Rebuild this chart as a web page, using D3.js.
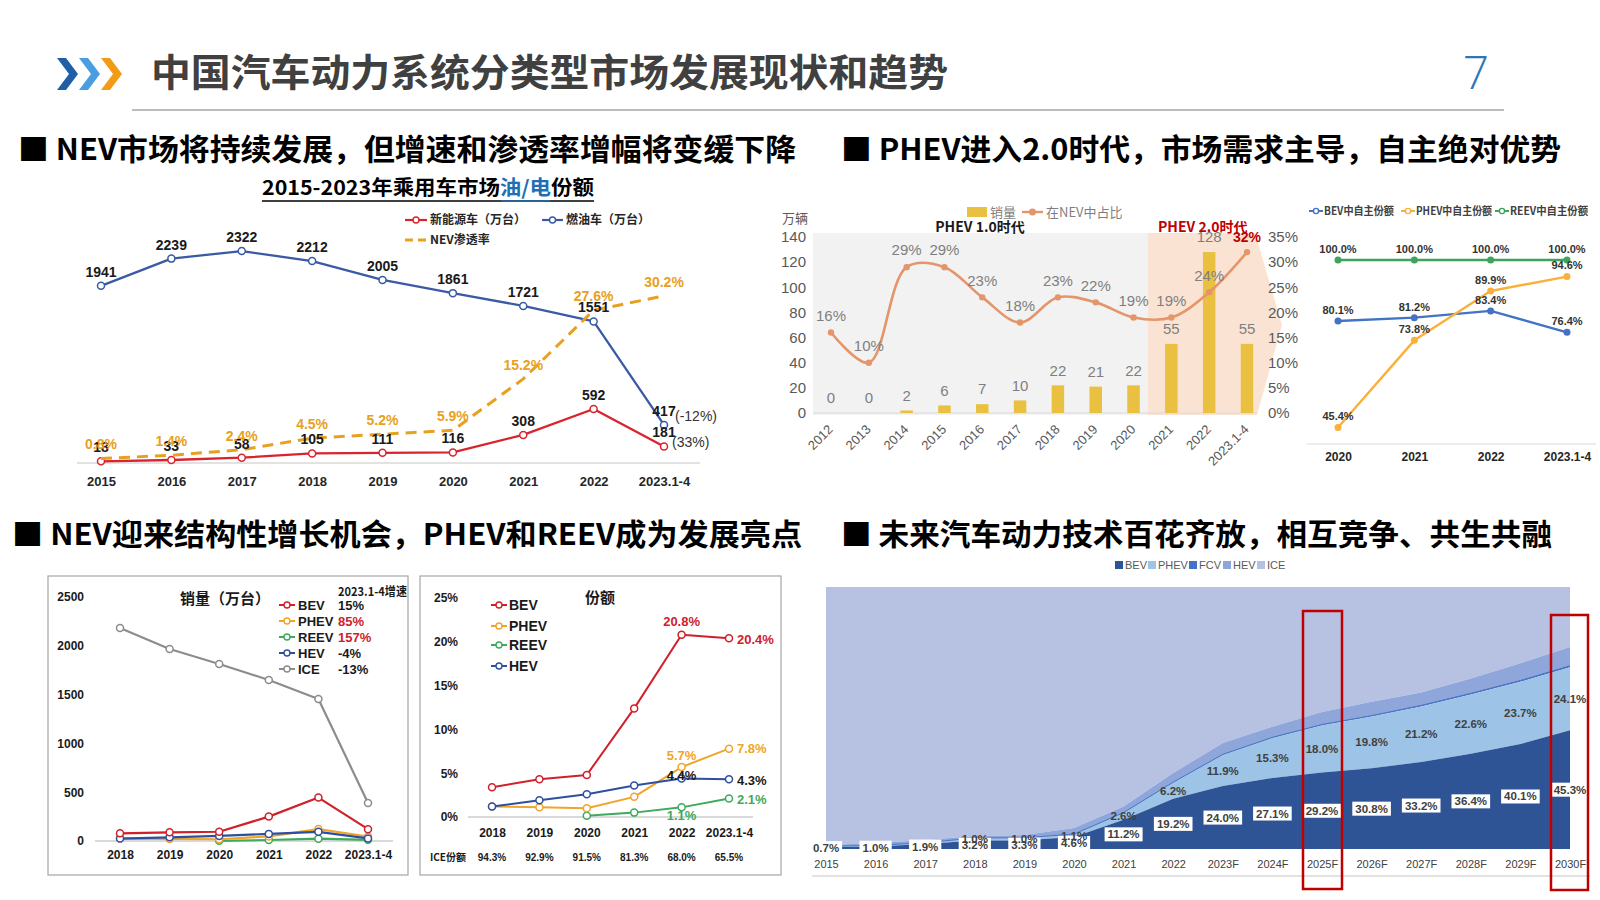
<!DOCTYPE html>
<html><head><meta charset="utf-8">
<script src="https://cdn.jsdelivr.net/npm/d3@7"></script>
<style>
body{margin:0;background:#fff;}
svg{display:block;}
</style></head><body>
<svg id="c" width="1600" height="900"></svg>
<script>
// ---------- DATA ----------
// Top-left: 2015-2023 passenger car market
const tlYears = ['2015','2016','2017','2018','2019','2020','2021','2022','2023.1-4'];
const tlNEV = [18,33,58,105,111,116,308,592,181];
const tlICE = [1941,2239,2322,2212,2005,1861,1721,1551,417];
const tlRate = [0.8,1.4,2.4,4.5,5.2,5.9,15.2,27.6,30.2];
const tlRateLabels = ['0.8%','1.4%','2.4%','4.5%','5.2%','5.9%','15.2%','27.6%','30.2%'];

// Top-middle: PHEV sales and share in NEV
const phevYears = ['2012','2013','2014','2015','2016','2017','2018','2019','2020','2021','2022','2023.1-4'];
const phevSales = [0,0,2,6,7,10,22,21,22,55,128,55];
const phevShare = [16,10,29,29,23,18,23,22,19,19,24,32];
const phevLeftTicks = [0,20,40,60,80,100,120,140];
const phevRightTicks = [0,5,10,15,20,25,30,35];

// Top-right: domestic brand share
const ownYears = ['2020','2021','2022','2023.1-4'];
const ownBEV = [80.1,81.2,83.4,76.4];
const ownPHEV = [45.4,73.8,89.9,94.6];
const ownREEV = [100.0,100.0,100.0,100.0];

// Bottom-left: sales (10k units) and share
const nevYears = ['2018','2019','2020','2021','2022','2023.1-4'];
const salesBEV = [79,89,95,250,445,121];
const salesPHEV = [25,21,18,47,122,46];
const salesREEV = [null,null,2,10,24,12];
const salesHEV = [25,38,52,73,94,26];
const salesICE = [2182,1967,1813,1650,1455,389];
const salesTicks = [0,500,1000,1500,2000,2500];
const growthLabels = ['15%','85%','157%','-4%','-13%'];

const shareBEV = [3.4,4.3,4.8,12.4,20.8,20.4];
const sharePHEV = [1.2,1.1,1.0,2.3,5.7,7.8];
const shareREEV = [null,null,0.15,0.5,1.1,2.1];
const shareHEV = [1.2,1.9,2.6,3.6,4.4,4.3];
const shareICELabels = ['94.3%','92.9%','91.5%','81.3%','68.0%','65.5%'];
const shareTicks = [0,5,10,15,20,25];

// Bottom-right: powertrain mix forecast (%)
const futYears = ['2015','2016','2017','2018','2019','2020','2021','2022','2023F','2024F','2025F','2026F','2027F','2028F','2029F','2030F'];
const futBEV  = [0.7,1.0,1.9,3.2,3.3,4.6,11.2,19.2,24.0,27.1,29.2,30.8,33.2,36.4,40.1,45.3];
const futPHEV = [0.3,0.4,0.5,1.0,1.0,1.1,2.6,6.2,11.9,15.3,18.0,19.8,21.2,22.6,23.7,24.1];
const futFCV  = [0,0,0,0,0,0,0.1,0.1,0.2,0.2,0.3,0.3,0.4,0.4,0.5,0.5];
const futHEV  = [0.5,0.9,1.0,0.8,1.0,2.3,2.3,3.5,4.4,4.1,4.8,5.3,4.9,5.7,6.6,7.2];
const futICE  = [98.5,97.7,96.6,95.0,94.7,92.0,83.8,71.0,59.5,53.3,47.7,43.8,40.3,34.9,29.1,22.9];

// ---------- HELPERS ----------
const svg = d3.select('#c');
const CJK = '"Noto Sans CJK SC","Liberation Sans",sans-serif';
const NUM = '"Liberation Sans","Noto Sans CJK SC",sans-serif';
const NAR = '"Liberation Sans Narrow","Liberation Sans","Noto Sans CJK SC",sans-serif';

function T(g, x, y, s, o = {}) {
  const t = g.append('text').attr('x', x).attr('y', y).attr('dy', o.dy ?? '0.35em')
    .attr('text-anchor', o.anchor || 'middle').attr('font-size', o.size || 12)
    .attr('font-weight', o.weight || 'normal').attr('fill', o.fill || '#000')
    .attr('font-family', o.family || NUM).text(s);
  if (o.len) t.attr('textLength', o.len).attr('lengthAdjust', 'spacingAndGlyphs');
  return t;
}
function styleAxis(g, o = {}) {
  g.select('.domain').remove();
  g.selectAll('.tick line').remove();
  g.attr('font-family', o.family || NUM).attr('font-size', o.size || 12).attr('font-weight', o.weight || 'normal');
  g.selectAll('text').attr('fill', o.fill || '#000');
  return g;
}
function hline(g, x1, x2, y, col, w) {
  g.append('line').attr('x1', x1).attr('x2', x2).attr('y1', y).attr('y2', y).attr('stroke', col).attr('stroke-width', w);
}
function series(g, xs, ys, vals, color, o = {}) {
  const pts = vals.map((v, i) => ({ v, i })).filter(d => d.v !== null);
  const line = d3.line().x(d => xs(d.x)).y(d => ys(d.v));
  if (o.curve) line.curve(o.curve);
  const data = pts.map(d => ({ x: o.cats[d.i], v: d.v }));
  const p = g.append('path').datum(data).attr('d', line).attr('fill', 'none').attr('stroke', color)
    .attr('stroke-width', o.width || 2.2).attr('stroke-linejoin', 'round');
  if (o.dash) p.attr('stroke-dasharray', o.dash);
  if (o.marker !== false) {
    g.selectAll(null).data(data).enter().append('circle')
      .attr('cx', d => xs(d.x)).attr('cy', d => ys(d.v)).attr('r', o.r || 3.5)
      .attr('fill', o.filled ? color : '#fff').attr('stroke', color).attr('stroke-width', o.filled ? 0 : 1.5);
  }
}
function legendLine(g, x1, x2, y, color, o = {}) {
  const l = g.append('line').attr('x1', x1).attr('x2', x2).attr('y1', y).attr('y2', y)
    .attr('stroke', color).attr('stroke-width', o.width || 2);
  if (o.dash) l.attr('stroke-dasharray', o.dash);
  if (!o.dash) g.append('circle').attr('cx', (x1 + x2) / 2).attr('cy', y).attr('r', o.r || 3)
    .attr('fill', o.filled ? color : '#fff').attr('stroke', color).attr('stroke-width', 1.4);
}

svg.append('rect').attr('width', 1600).attr('height', 900).attr('fill', '#fff');

// ---------- HEADER ----------
const hd = svg.append('g');
[[57, '#1f5fa8'], [79, '#4a9de0'], [101, '#f39a17']].forEach(([x0, c]) => {
  const top = 58, bot = 90, mid = 74, w = 21, t = 9;
  hd.append('polygon').attr('points', [[x0, top], [x0 + t, top], [x0 + w, mid], [x0 + t, bot], [x0, bot], [x0 + w - t, mid]].map(p => p.join(',')).join(' ')).attr('fill', c);
});
T(hd, 151, 73, '中国汽车动力系统分类型市场发展现状和趋势', { anchor: 'start', size: 38, weight: 'bold', fill: '#404040', family: CJK, len: 797 });
T(hd, 1476, 73, '7', { size: 46, weight: '300', fill: '#2e75b6', family: '"Open Sans","Liberation Sans",sans-serif' });
hline(hd, 132, 1504, 110, '#a6a6a6', 1.5);

T(hd, 18, 149, '■ NEV市场将持续发展，但增速和渗透率增幅将变缓下降', { anchor: 'start', size: 30, weight: 'bold', family: CJK, len: 778 });
T(hd, 841, 149, '■ PHEV进入2.0时代，市场需求主导，自主绝对优势', { anchor: 'start', size: 30, weight: 'bold', family: CJK, len: 720 });
T(hd, 12, 534, '■ NEV迎来结构性增长机会，PHEV和REEV成为发展亮点', { anchor: 'start', size: 30, weight: 'bold', family: CJK, len: 790 });
T(hd, 841, 534, '■ 未来汽车动力技术百花齐放，相互竞争、共生共融', { anchor: 'start', size: 30, weight: 'bold', family: CJK, len: 711 });

// ---------- TOP-LEFT ----------
(function () {
  const g = svg.append('g');
  const st = T(g, 262, 188, '', { anchor: 'start', size: 20, weight: 'bold', family: CJK, len: 332 });
  st.append('tspan').text('2015-2023年乘用车市场');
  st.append('tspan').attr('fill', '#1f6fb5').text('油/电');
  st.append('tspan').text('份额');
  hline(g, 262, 594, 201, '#000', 1.5);
  hline(g, 501, 550, 201, '#1f6fb5', 1.5);

  legendLine(g, 405, 427, 220, '#d9232e', { width: 2.2 });
  T(g, 430, 220, '新能源车（万台）', { anchor: 'start', size: 12, weight: 'bold', family: CJK, fill: '#262626' });
  legendLine(g, 542, 563, 220, '#3a5aa6', { width: 2.2 });
  T(g, 566, 220, '燃油车（万台）', { anchor: 'start', size: 12, weight: 'bold', family: CJK, fill: '#262626' });
  legendLine(g, 405, 427, 240, '#e8a020', { width: 3, dash: '8,5' });
  T(g, 430, 240, 'NEV渗透率', { anchor: 'start', size: 12, weight: 'bold', family: CJK, fill: '#262626' });

  const x = d3.scalePoint().domain(tlYears).range([101, 664]);
  const y = d3.scaleLinear().domain([0, 2500]).range([463, 234.8]);
  const r = d3.scaleLinear().domain([0, 30]).range([463, 297]);

  hline(g, 77, 700, 463, '#d9d9d9', 1.5);
  const ax = g.append('g').attr('transform', 'translate(0,481)').call(d3.axisBottom(x).tickSize(0).tickPadding(0));
  styleAxis(ax, { size: 13, weight: 'bold', family: NAR, fill: '#262626' });
  ax.selectAll('text').attr('y', 0).attr('dy', '0.35em');

  series(g, x, y, tlICE, '#3a5aa6', { cats: tlYears, width: 2.3 });
  series(g, x, y, tlNEV, '#d9232e', { cats: tlYears, width: 2.3 });
  series(g, x, r, tlRate, '#e8a020', { cats: tlYears, width: 3, dash: '11,7', marker: false });

  tlICE.forEach((v, i) => T(g, x(tlYears[i]), y(v) - 14, String(v), { size: 14, weight: 'bold', family: NAR, fill: '#1a1a1a' }));
  tlNEV.forEach((v, i) => T(g, x(tlYears[i]), y(v) - 14, String(v), { size: 14, weight: 'bold', family: NAR, fill: '#1a1a1a' }));
  tlRate.forEach((v, i) => T(g, x(tlYears[i]), r(v) - 14, tlRateLabels[i], { size: 14, weight: 'bold', family: NAR, fill: '#e8a020' }));
  T(g, 675, 416, '(-12%)', { anchor: 'start', size: 14, family: NUM, fill: '#333' });
  T(g, 672, 442, '(33%)', { anchor: 'start', size: 14, family: NUM, fill: '#333' });
})();

// ---------- TOP-MIDDLE ----------
(function () {
  const g = svg.append('g');
  const x = d3.scalePoint().domain(phevYears).range([831, 1247]);
  const yL = d3.scaleLinear().domain([0, 140]).range([413, 237]);
  const yR = d3.scaleLinear().domain([0, 35]).range([413, 237]);

  g.append('rect').attr('x', 813).attr('y', 233).attr('width', 335).attr('height', 182).attr('fill', '#f2f2f2');
  g.append('polygon').attr('points', '1148,233 1255,233 1282,325 1257,415 1148,415').attr('fill', '#fbe3d4');

  const al = g.append('g').attr('transform', 'translate(806,0)').call(d3.axisLeft(yL).tickValues(phevLeftTicks).tickFormat(d3.format('d')).tickSize(0).tickPadding(0));
  styleAxis(al, { size: 15, fill: '#595959' });
  const ar = g.append('g').attr('transform', 'translate(1268,0)').call(d3.axisRight(yR).tickValues(phevRightTicks).tickFormat(d => d + '%').tickSize(0).tickPadding(0));
  styleAxis(ar, { size: 15, fill: '#595959' });
  T(g, 795, 218, '万辆', { size: 13, fill: '#595959', family: CJK });

  hline(g, 813, 1257, 413, '#d9d9d9', 1.2);
  const bw = 12.5;
  g.selectAll(null).data(phevSales).enter().append('rect')
    .attr('x', (d, i) => x(phevYears[i]) - bw / 2).attr('y', d => yL(d)).attr('width', bw)
    .attr('height', d => 413 - yL(d)).attr('fill', '#e9c03f');
  phevSales.forEach((v, i) => T(g, x(phevYears[i]), yL(v) - 15, String(v), { size: 15, fill: '#7f7f7f' }));

  series(g, x, yR, phevShare, '#e4956a', { cats: phevYears, width: 2.6, curve: d3.curveCatmullRom.alpha(0.5), filled: true, r: 3.2 });
  phevShare.forEach((v, i) => {
    if (i === phevShare.length - 1) T(g, x(phevYears[i]), yR(v) - 15, v + '%', { size: 14, weight: 'bold', fill: '#c00000' });
    else T(g, x(phevYears[i]), yR(v) - 17, v + '%', { size: 15, fill: '#7f7f7f' });
  });

  const ax = g.append('g').attr('transform', 'translate(0,413)').call(d3.axisBottom(x).tickSize(0).tickPadding(0));
  styleAxis(ax, { size: 13, fill: '#595959' });
  ax.selectAll('text').attr('x', 0).attr('y', 0).attr('dy', '0.35em').attr('text-anchor', 'end')
    .attr('transform', 'translate(-1,14) rotate(-45)');

  T(g, 980, 227, 'PHEV 1.0时代', { size: 14, weight: 'bold', family: CJK, fill: '#1a1a1a' });
  T(g, 1158, 227, 'PHEV 2.0时代', { anchor: 'start', size: 14, weight: 'bold', family: CJK, fill: '#c00000' });

  g.append('rect').attr('x', 967).attr('y', 207).attr('width', 20).attr('height', 10).attr('fill', '#e9c03f');
  T(g, 990, 212, '销量', { anchor: 'start', size: 13, fill: '#7f7f7f', family: CJK });
  legendLine(g, 1022, 1043, 212, '#e4956a', { width: 2.4, filled: true, r: 2.8 });
  T(g, 1046, 212, '在NEV中占比', { anchor: 'start', size: 13, fill: '#7f7f7f', family: CJK });
})();

// ---------- TOP-RIGHT ----------
(function () {
  const g = svg.append('g');
  const x = d3.scalePoint().domain(ownYears).range([1338, 1567]);
  const y = d3.scaleLinear().domain([40, 100]).range([444, 260]);
  hline(g, 1307, 1596, 444, '#d9d9d9', 1.2);
  const ax = g.append('g').attr('transform', 'translate(0,457)').call(d3.axisBottom(x).tickSize(0).tickPadding(0));
  styleAxis(ax, { size: 12, weight: 'bold', fill: '#262626' });
  ax.selectAll('text').attr('y', 0).attr('dy', '0.35em');

  const cB = '#4472c4', cP = '#fbb03b', cR = '#3fa45b';
  series(g, x, y, ownREEV, cR, { cats: ownYears, width: 2.4, filled: true, r: 3.5 });
  series(g, x, y, ownBEV, cB, { cats: ownYears, width: 2.4, filled: true, r: 3.5 });
  series(g, x, y, ownPHEV, cP, { cats: ownYears, width: 2.4, filled: true, r: 3.5 });
  const lab = (arr) => arr.forEach((v, i) => T(g, x(ownYears[i]), y(v) - 11, v.toFixed(1) + '%', { size: 11, weight: 'bold', fill: '#333' }));
  lab(ownREEV); lab(ownBEV); lab(ownPHEV);

  legendLine(g, 1309, 1323, 211, cB, { width: 2, r: 2.6 });
  T(g, 1324, 211, 'BEV中自主份额', { anchor: 'start', size: 11, weight: 'bold', fill: '#404040', family: CJK, len: 70 });
  legendLine(g, 1401, 1415, 211, cP, { width: 2, r: 2.6 });
  T(g, 1416, 211, 'PHEV中自主份额', { anchor: 'start', size: 11, weight: 'bold', fill: '#404040', family: CJK, len: 76 });
  legendLine(g, 1495, 1509, 211, cR, { width: 2, r: 2.6 });
  T(g, 1510, 211, 'REEV中自主份额', { anchor: 'start', size: 11, weight: 'bold', fill: '#404040', family: CJK, len: 78 });
})();

// ---------- BOTTOM-LEFT boxes ----------
svg.append('rect').attr('x', 48).attr('y', 576).attr('width', 360).attr('height', 299).attr('fill', 'none').attr('stroke', '#a6a6a6').attr('stroke-width', 1.2);
svg.append('rect').attr('x', 420).attr('y', 576).attr('width', 361).attr('height', 299).attr('fill', 'none').attr('stroke', '#a6a6a6').attr('stroke-width', 1.2);

const cBEV = '#d0202a', cPHEV = '#f0a52a', cREEV = '#3daa5c', cHEV = '#2e4fa0', cICE = '#8c8c8c';

// Chart 1: sales
(function () {
  const g = svg.append('g');
  const x = d3.scalePoint().domain(nevYears).range([120, 368]);
  const y = d3.scaleLinear().domain([0, 2500]).range([841, 597]);
  const ay = g.append('g').attr('transform', 'translate(84,0)').call(d3.axisLeft(y).tickValues(salesTicks).tickFormat(d3.format('d')).tickSize(0).tickPadding(0));
  styleAxis(ay, { size: 12, weight: 'bold', fill: '#1a1a1a' });
  hline(g, 95, 393, 841, '#d9d9d9', 2);
  const ax = g.append('g').attr('transform', 'translate(0,855)').call(d3.axisBottom(x).tickSize(0).tickPadding(0));
  styleAxis(ax, { size: 12, weight: 'bold', fill: '#1a1a1a' });
  ax.selectAll('text').attr('y', 0).attr('dy', '0.35em');

  series(g, x, y, salesICE, cICE, { cats: nevYears, width: 2.2 });
  series(g, x, y, salesREEV, cREEV, { cats: nevYears, width: 2.2 });
  series(g, x, y, salesPHEV, cPHEV, { cats: nevYears, width: 2.2 });
  series(g, x, y, salesHEV, cHEV, { cats: nevYears, width: 2.2 });
  series(g, x, y, salesBEV, cBEV, { cats: nevYears, width: 2.2 });

  T(g, 225, 599, '销量（万台）', { size: 15, weight: 'bold', family: CJK, fill: '#1a1a1a' });
  T(g, 338, 592, '2023.1-4增速', { anchor: 'start', size: 12, weight: 'bold', family: CJK, fill: '#1a1a1a', len: 69 });
  const names = ['BEV', 'PHEV', 'REEV', 'HEV', 'ICE'];
  const cols = [cBEV, cPHEV, cREEV, cHEV, cICE];
  const gcol = ['#1a1a1a', '#d0202a', '#d0202a', '#1a1a1a', '#1a1a1a'];
  names.forEach((n, i) => {
    const yy = 605 + i * 16;
    legendLine(g, 279, 295, yy, cols[i], { width: 2, r: 3 });
    T(g, 298, yy, n, { anchor: 'start', size: 13, weight: 'bold', fill: '#1a1a1a' });
    T(g, 338, yy, growthLabels[i], { anchor: 'start', size: 13, weight: 'bold', fill: gcol[i] });
  });
})();

// Chart 2: share
(function () {
  const g = svg.append('g');
  const x = d3.scalePoint().domain(nevYears).range([492, 729]);
  const y = d3.scaleLinear().domain([0, 25]).range([817, 598]);
  const ay = g.append('g').attr('transform', 'translate(458,0)').call(d3.axisLeft(y).tickValues(shareTicks).tickFormat(d => d + '%').tickSize(0).tickPadding(0));
  styleAxis(ay, { size: 12, weight: 'bold', fill: '#1a1a1a' });
  hline(g, 468, 753, 817, '#d9d9d9', 2);
  const ax = g.append('g').attr('transform', 'translate(0,833)').call(d3.axisBottom(x).tickSize(0).tickPadding(0));
  styleAxis(ax, { size: 12, weight: 'bold', fill: '#1a1a1a' });
  ax.selectAll('text').attr('y', 0).attr('dy', '0.35em');

  T(g, 448, 857, 'ICE份额', { size: 10, weight: 'bold', family: CJK, fill: '#1a1a1a' });
  shareICELabels.forEach((s, i) => T(g, x(nevYears[i]), 857, s, { size: 10, weight: 'bold', fill: '#1a1a1a' }));

  series(g, x, y, shareREEV, cREEV, { cats: nevYears, width: 2 });
  series(g, x, y, sharePHEV, cPHEV, { cats: nevYears, width: 2 });
  series(g, x, y, shareHEV, cHEV, { cats: nevYears, width: 2 });
  series(g, x, y, shareBEV, cBEV, { cats: nevYears, width: 2 });

  T(g, 600, 598, '份额', { size: 15, weight: 'bold', family: CJK, fill: '#1a1a1a' });
  [['BEV', cBEV, 605], ['PHEV', cPHEV, 626], ['REEV', cREEV, 645], ['HEV', cHEV, 666]].forEach(([n, c, yy]) => {
    legendLine(g, 491, 507, yy, c, { width: 2, r: 3 });
    T(g, 509, yy, n, { anchor: 'start', size: 14, weight: 'bold', fill: '#1a1a1a' });
  });
  const xl = x('2022'), xr = x('2023.1-4') + 8;
  T(g, xl, y(shareBEV[4]) - 13, shareBEV[4].toFixed(1) + '%', { size: 13, weight: 'bold', fill: cBEV });
  T(g, xr, y(shareBEV[5]) + 1, shareBEV[5].toFixed(1) + '%', { anchor: 'start', size: 13, weight: 'bold', fill: cBEV });
  T(g, xl, y(sharePHEV[4]) - 12, sharePHEV[4].toFixed(1) + '%', { size: 13, weight: 'bold', fill: cPHEV });
  T(g, xr, y(sharePHEV[5]), sharePHEV[5].toFixed(1) + '%', { anchor: 'start', size: 13, weight: 'bold', fill: cPHEV });
  T(g, xl, y(shareHEV[4]) - 3, shareHEV[4].toFixed(1) + '%', { size: 13, weight: 'bold', fill: '#1a1a1a' });
  T(g, xr, y(shareHEV[5]) + 1, shareHEV[5].toFixed(1) + '%', { anchor: 'start', size: 13, weight: 'bold', fill: '#1a1a1a' });
  T(g, xr, y(shareREEV[5]) + 1, shareREEV[5].toFixed(1) + '%', { anchor: 'start', size: 13, weight: 'bold', fill: cREEV });
  T(g, xl, y(shareREEV[4]) + 8, shareREEV[4].toFixed(1) + '%', { size: 13, weight: 'bold', fill: cREEV });
})();

// ---------- BOTTOM-RIGHT ----------
(function () {
  const g = svg.append('g');
  const x = d3.scalePoint().domain(futYears).range([826, 1570]);
  const y = d3.scaleLinear().domain([0, 100]).range([849, 587]);
  const rows = futYears.map((yr, i) => ({ year: yr, BEV: futBEV[i], PHEV: futPHEV[i], FCV: futFCV[i], HEV: futHEV[i], ICE: futICE[i] }));
  const keys = ['BEV', 'PHEV', 'FCV', 'HEV', 'ICE'];
  const colors = { BEV: '#2f5496', PHEV: '#9dc3e6', FCV: '#4472c4', HEV: '#8fa6da', ICE: '#b7c2e3' };
  const stacked = d3.stack().keys(keys)(rows);
  const area = d3.area().x(d => x(d.data.year)).y0(d => y(d[0])).y1(d => y(d[1]));
  g.selectAll(null).data(stacked.slice().reverse()).enter().append('path')
    .attr('d', area).attr('fill', d => colors[d.key]);
  g.append('path').datum(stacked[2]).attr('d', d3.line().x(d => x(d.data.year)).y(d => y(d[1])))
    .attr('fill', 'none').attr('stroke', '#4472c4').attr('stroke-width', 1);

  const ax = g.append('g').attr('transform', 'translate(0,864)').call(d3.axisBottom(x).tickSize(0).tickPadding(0));
  styleAxis(ax, { size: 11, fill: '#404040' });
  ax.selectAll('text').attr('y', 0).attr('dy', '0.35em');
  hline(g, 812, 1590, 876, '#d9d9d9', 1.5);

  futBEV.forEach((v, i) => {
    const cx = x(futYears[i]), cy = y(v / 2);
    const t = T(g, cx, cy, v.toFixed(1) + '%', { size: 11.5, weight: 'bold', fill: '#404040' });
    const b = t.node().getBBox();
    g.insert('rect', () => t.node()).attr('x', b.x - 3).attr('y', b.y - 1).attr('width', b.width + 6).attr('height', b.height + 2).attr('fill', '#fff');
  });
  futPHEV.forEach((v, i) => {
    if (i < 3) return;
    T(g, x(futYears[i]), y(futBEV[i] + v / 2), v.toFixed(1) + '%', { size: 11.5, weight: 'bold', fill: '#404040' });
  });

  const leg = [['BEV', 1115], ['PHEV', 1148], ['FCV', 1189], ['HEV', 1223], ['ICE', 1257]];
  leg.forEach(([k, lx]) => {
    g.append('rect').attr('x', lx).attr('y', 561).attr('width', 8).attr('height', 8).attr('fill', colors[k]);
    T(g, lx + 10, 565, k, { anchor: 'start', size: 11, fill: '#595959' });
  });

  g.append('rect').attr('x', 1303).attr('y', 611).attr('width', 39).attr('height', 278).attr('fill', 'none').attr('stroke', '#c00000').attr('stroke-width', 2.5);
  g.append('rect').attr('x', 1551).attr('y', 615).attr('width', 37).attr('height', 275).attr('fill', 'none').attr('stroke', '#c00000').attr('stroke-width', 2.5);
})();
</script></body></html>
